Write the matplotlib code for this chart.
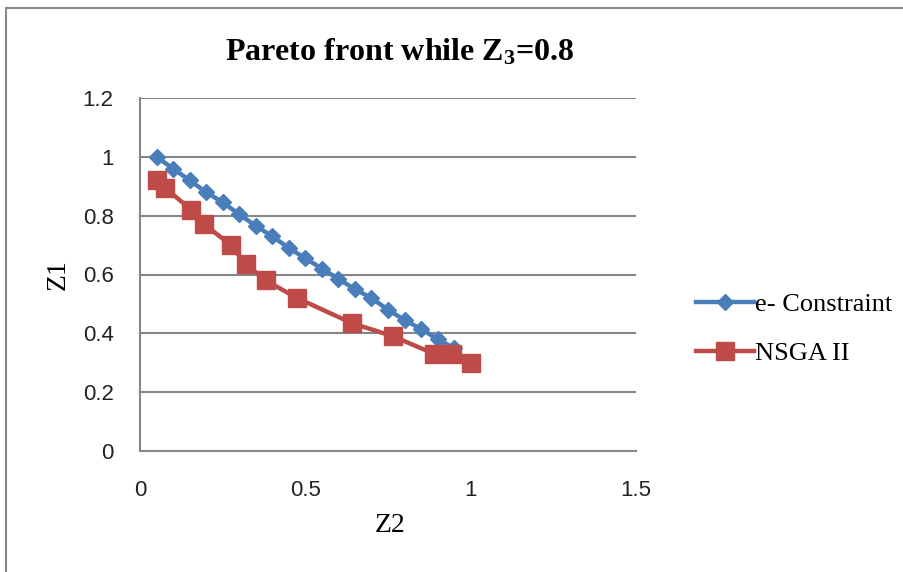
import matplotlib
matplotlib.use("Agg")
import matplotlib.pyplot as plt
from matplotlib.patches import Rectangle

# Data
ec_z2 = [0.05, 0.10, 0.15, 0.20, 0.25, 0.30, 0.35, 0.40, 0.45, 0.50,
         0.55, 0.60, 0.65, 0.70, 0.75, 0.80, 0.85, 0.90, 0.95]
ec_z1 = [1.00, 0.96, 0.92, 0.88, 0.845, 0.805, 0.765, 0.73, 0.69, 0.655,
         0.62, 0.585, 0.55, 0.52, 0.48, 0.445, 0.415, 0.38, 0.35]
ns_z2 = [0.05, 0.075, 0.155, 0.195, 0.275, 0.32, 0.38, 0.475, 0.64,
         0.765, 0.89, 0.945, 1.00]
ns_z1 = [0.92, 0.895, 0.82, 0.77, 0.70, 0.635, 0.58, 0.52, 0.435,
         0.39, 0.33, 0.33, 0.30]
x_ticks = [0, 0.5, 1, 1.5]
x_ticklabels = ["0", "0.5", "1", "1.5"]
y_ticks = [0, 0.2, 0.4, 0.6, 0.8, 1.0, 1.2]
y_ticklabels = ["0", "0.2", "0.4", "0.6", "0.8", "1", "1.2"]

plt.rcParams['mathtext.fontset'] = 'custom'
plt.rcParams['mathtext.rm'] = 'Liberation Serif:bold'
plt.rcParams['mathtext.it'] = 'Liberation Serif:bold'
plt.rcParams['mathtext.bf'] = 'Liberation Serif:bold'

fig = plt.figure(figsize=(9.04, 5.72), dpi=100)
W, H = 904, 572
ax = fig.add_axes([140 / W, 1 - 451 / H, (636 - 140) / W, (451 - 98) / H])

grid_c = '#868686'
for yv in y_ticks:
    ax.axhline(yv, color=grid_c, lw=1.5, zorder=0)

blue = '#4A7EBB'
red = '#BE4B48'
ax.plot(ec_z2, ec_z1, color=blue, lw=3.2, marker='D', markersize=8.5,
        markerfacecolor=blue, markeredgecolor=blue, label='e- Constraint', zorder=3)
ax.plot(ns_z2, ns_z1, color=red, lw=3.2, marker='s', markersize=12.5,
        markerfacecolor=red, markeredgecolor=red, label='NSGA II', zorder=4)

ax.set_xlim(0, 1.5)
ax.set_ylim(0, 1.2)
ax.set_xticks(x_ticks)
ax.set_xticklabels(x_ticklabels)
ax.set_yticks(y_ticks)
ax.set_yticklabels(y_ticklabels)
ax.tick_params(length=0, labelsize=16, colors='#222222')
ax.tick_params(axis='y', pad=19)
ax.tick_params(axis='x', pad=21)
for lab in ax.get_xticklabels() + ax.get_yticklabels():
    lab.set_fontfamily('Liberation Sans')

for s in ['top', 'right']:
    ax.spines[s].set_visible(False)
for s in ['left', 'bottom']:
    ax.spines[s].set_color(grid_c)
    ax.spines[s].set_linewidth(1.5)

fig.text(390 / W, 1 - 526 / H, 'Z2', ha='center', va='center',
         fontfamily='Liberation Serif', fontsize=20)
fig.text(58 / W, 1 - 275 / H, 'Z1', ha='center', va='center', rotation=90,
         fontfamily='Liberation Serif', fontsize=20)

fig.text(400 / W, 1 - 52 / H, r'Pareto front while Z$_3$=0.8', ha='center', va='center',
         fontfamily='Liberation Serif', fontweight='bold', fontsize=23)

leg = fig.legend(loc='upper left', bbox_to_anchor=(672 / W, 1 - 269 / H),
                 frameon=False, prop={'family': 'Liberation Serif', 'size': 19},
                 handlelength=2.2, handletextpad=0.05, labelspacing=0.95)

fig.patches.append(Rectangle((6 / W, -0.1), 2.0, 1 - 8 / H + 0.1, transform=fig.transFigure,
                             fill=False, edgecolor='#888888', lw=1.5))

fig.savefig('out.png', dpi=100)
